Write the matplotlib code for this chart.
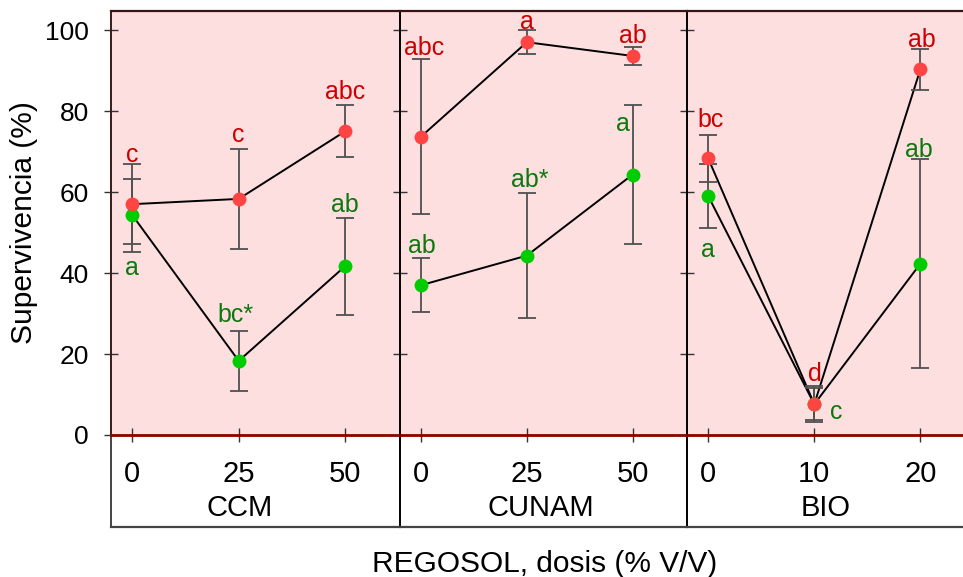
import matplotlib
matplotlib.use("Agg")
import matplotlib.pyplot as plt

plt.rcParams['font.family'] = ['Liberation Sans', 'DejaVu Sans']

# ---------------- data ----------------
groups = ['CCM', 'CUNAM', 'BIO']
dose_labels = [['0', '25', '50'], ['0', '25', '50'], ['0', '10', '20']]

red_mean = [[57.0, 58.3, 75.0], [73.7, 97.0, 93.6], [68.3, 7.6, 90.3]]
red_err = [[9.8, 12.3, 6.4], [19.2, 2.9, 2.2], [5.8, 3.9, 5.0]]
green_mean = [[54.3, 18.3, 41.7], [37.0, 44.3, 64.3], [59.0, 7.6, 42.3]]
green_err = [[9.0, 7.5, 12.0], [6.6, 15.5, 17.2], [8.0, 4.4, 25.8]]

red_letters = [['c', 'c', 'abc'], ['abc', 'a', 'ab'], ['bc', 'd', 'ab']]
green_letters = [['a', 'bc*', 'ab'], ['ab', 'ab*', 'a'], ['a', 'c', 'ab']]

# letter placement (baseline y in data units, x shift in category units)
red_letter_y = [[67.5, 72.4, 82.9], [93.8, 100.2, 96.7], [76.1, 13.3, 95.9]]
red_letter_dx = [[0, 0, 0], [0.03, 0, 0], [0.02, 0.01, 0.01]]
green_letter_y = [[39.5, 28.0, 55.0], [45.0, 61.3, 75.1], [44.0, 3.9, 68.7]]
green_letter_dx = [[0, -0.03, 0], [0.01, 0.03, -0.09], [0.0, 0.21, -0.01]]
group_label_x = [1.01, 1.13, 1.11]

ylabel = 'Supervivencia (%)'
xlabel = 'REGOSOL, dosis (% V/V)'

# ---------------- style ----------------
W, H = 963, 577
BG = '#FDDFE0'
RED = '#FF4444'
GREEN = '#00CC00'
RED_TXT = '#CC0000'
GREEN_TXT = '#0E780E'
ERR = '#505050'

fig = plt.figure(figsize=(W / 100, H / 100), dpi=100)

lefts = [111, 400, 687]
rights = [400, 687, 975]
top_px, bot_px, box_px = 11, 435, 527
xlim = (-0.2, 2.515)
ylim = (0, 104.7)

def fx(px):
    return px / W

def fy(py):
    return (H - py) / H

for i in range(3):
    l, r = lefts[i], rights[i]
    ax = fig.add_axes([fx(l), fy(bot_px), fx(r - l), (bot_px - top_px) / H])
    ax.set_facecolor(BG)
    ax.set_xlim(*xlim)
    ax.set_ylim(*ylim)
    pos = [0, 1, 2]

    # lines
    ax.plot(pos, green_mean[i], color='black', lw=1.4, zorder=2)
    ax.plot(pos, red_mean[i], color='black', lw=1.4, zorder=2)
    # error bars
    ax.errorbar(pos, green_mean[i], yerr=green_err[i], fmt='none', ecolor=ERR,
                elinewidth=1.3, capsize=6.5, capthick=1.3, zorder=3)
    ax.errorbar(pos, red_mean[i], yerr=red_err[i], fmt='none', ecolor=ERR,
                elinewidth=1.3, capsize=6.5, capthick=1.3, zorder=3)
    # markers
    ax.plot(pos, green_mean[i], 'o', color=GREEN, ms=10, mew=0, zorder=4)
    ax.plot(pos, red_mean[i], 'o', color=RED, ms=10, mew=0, zorder=5)

    # letters
    for j in range(3):
        ax.text(pos[j] + red_letter_dx[i][j], red_letter_y[i][j], red_letters[i][j],
                color=RED_TXT, fontsize=18, ha='center', va='baseline', zorder=6)
        ax.text(pos[j] + green_letter_dx[i][j], green_letter_y[i][j], green_letters[i][j],
                color=GREEN_TXT, fontsize=18, ha='center', va='baseline', zorder=6)

    # ticks
    ax.set_xticks(pos, dose_labels[i])
    ax.set_yticks([0, 20, 40, 60, 80, 100])
    ax.tick_params(axis='x', direction='inout', length=10, width=1, color='#333333',
                   labelsize=21, pad=13)
    ax.tick_params(axis='y', direction='inout', length=10, width=1, color='#333333',
                   labelsize=19, pad=11)
    if i > 0:
        ax.tick_params(axis='y', labelleft=False)

    ax.spines['right'].set_visible(False)
    ax.spines['top'].set_color('#3a1414')
    ax.spines['top'].set_linewidth(1.6)
    ax.spines['bottom'].set_color('#8B0000')
    ax.spines['bottom'].set_linewidth(2)
    ax.spines['left'].set_color('#3a1a1a' if i == 0 else 'black')
    ax.spines['left'].set_linewidth(1.4)
    ax.spines['bottom'].set_zorder(7)

    # lower box with group name
    bx = fig.add_axes([fx(l), fy(box_px), fx(r - l), (box_px - bot_px) / H], zorder=-1)
    bx.set_xlim(*xlim)
    bx.set_ylim(0, 1)
    bx.set_xticks([])
    bx.set_yticks([])
    bx.spines['top'].set_visible(False)
    bx.spines['right'].set_visible(False)
    bx.spines['bottom'].set_color('#444444')
    bx.spines['bottom'].set_linewidth(1.6)
    bx.spines['left'].set_color('#444444' if i == 0 else 'black')
    bx.spines['left'].set_linewidth(1.4)
    bx.text(group_label_x[i], (box_px - 516) / (box_px - bot_px), groups[i],
            fontsize=21, ha='center', va='baseline', transform=bx.transData)

fig.text(fx(545), fy(571.7), xlabel, fontsize=21.5, ha='center', va='baseline')
fig.text(fx(24.5), fy(223), ylabel, fontsize=21.5, ha='center', va='center', rotation=90)

fig.savefig('out.png', dpi=100)
